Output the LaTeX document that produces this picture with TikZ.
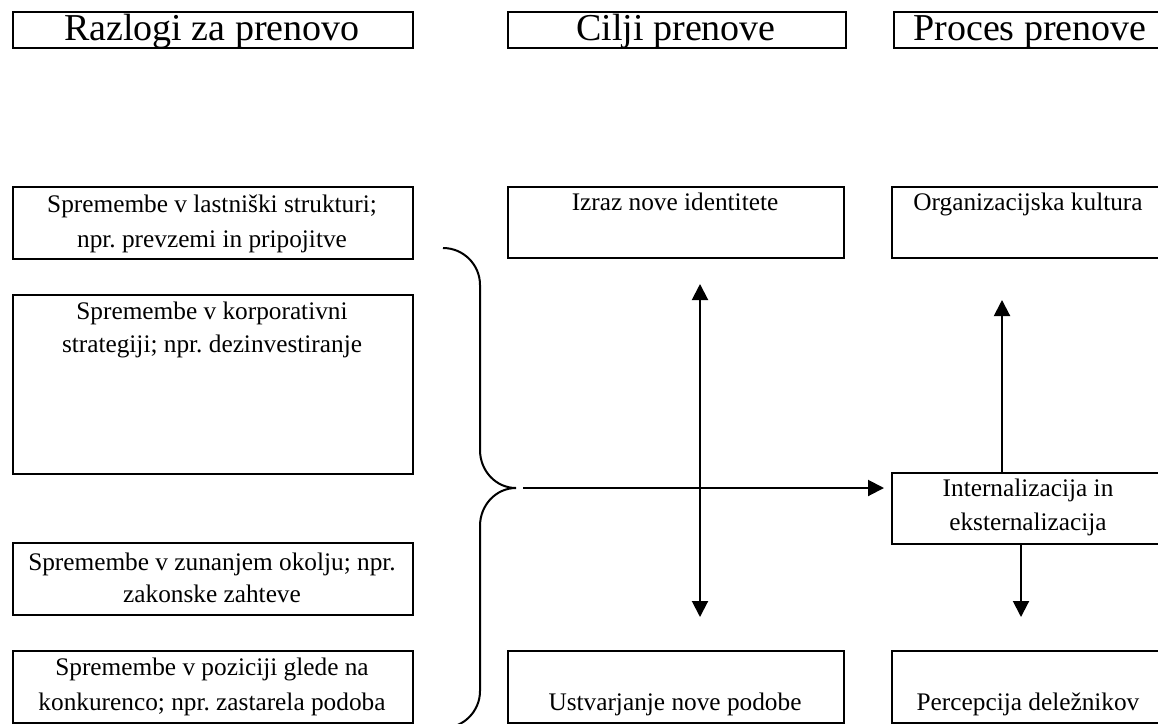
\documentclass[tikz,border=0pt]{standalone}
\usepackage{fontspec}
\setmainfont{Liberation Serif}
\usetikzlibrary{arrows.meta}
\frenchspacing
\tikzset{
  box/.style={draw, line width=2pt, rectangle, inner sep=0pt, anchor=north west},
  txt/.style={inner sep=0pt, anchor=base, font=\fontsize{25.3}{34}\selectfont},
  head/.style={inner sep=0pt, anchor=base, font=\fontsize{38}{42}\selectfont},
  conn/.style={line width=2pt, -{Triangle[width=16pt,length=16pt]}},
  biconn/.style={line width=2pt, {Triangle[width=16pt,length=16pt]}-{Triangle[width=16pt,length=16pt]}},
  bracepath/.style={line width=2pt}
}
\begin{document}
\begin{tikzpicture}[x=1pt, y=-1pt]
\useasboundingbox (0,0) rectangle (1158,723);
\clip (0,0) rectangle (1158,723);

% column headings
\node[box, minimum width=400pt, minimum height=36pt] (h1) at (12,11) {};
\node[box, minimum width=338pt, minimum height=36pt] (h2) at (507,11) {};
\node[box, minimum width=272pt, minimum height=36pt] (h3) at (893,11) {};
\node[head] (h1t) at (212,40) {Razlogi za prenovo};
\node[head] (h2t) at (676,40) {Cilji prenove};
\node[head] (h3t) at (1030,40) {Proces prenove};

% reasons
\node[box, minimum width=400pt, minimum height=72pt] (l1) at (12,186) {};
\node[txt] (l1a) at (212,212) {Spremembe v lastniški strukturi;};
\node[txt] (l1b) at (212,247) {npr. prevzemi in pripojitve};

\node[box, minimum width=400pt, minimum height=179pt] (l2) at (12,294) {};
\node[txt] (l2a) at (212,319) {Spremembe v korporativni};
\node[txt] (l2b) at (212,352) {strategiji; npr. dezinvestiranje};

\node[box, minimum width=400pt, minimum height=72pt] (l3) at (12,542) {};
\node[txt] (l3a) at (212,570) {Spremembe v zunanjem okolju; npr.};
\node[txt] (l3b) at (212,602) {zakonske zahteve};

\node[box, minimum width=400pt, minimum height=72pt] (l4) at (12,650) {};
\node[txt] (l4a) at (212,675) {Spremembe v poziciji glede na};
\node[txt] (l4b) at (212,710) {konkurenco; npr. zastarela podoba};

% goals
\node[box, minimum width=336pt, minimum height=71pt] (izraz) at (507,186) {};
\node[txt] (izrazt) at (675,210) {Izraz nove identitete};
\node[box, minimum width=336pt, minimum height=72pt] (ustv) at (507,650) {};
\node[txt] (ustvt) at (675,710) {Ustvarjanje nove podobe};

% process
\node[box, minimum width=274pt, minimum height=71pt] (org) at (891,186) {};
\node[txt] (orgt) at (1028,210) {Organizacijska kultura};
\node[box, minimum width=274pt, minimum height=71pt] (intern) at (891,472) {};
\node[txt] (interna) at (1028,496) {Internalizacija in};
\node[txt] (internb) at (1028,530) {eksternalizacija};
\node[box, minimum width=274pt, minimum height=72pt] (perc) at (891,650) {};
\node[txt] (perct) at (1028,710) {Percepcija deležnikov};

% curly brace gathering the reasons
\coordinate (tip) at (516,488);
\draw[bracepath] (443,248) .. controls (463.4,248) and (480,264.6) .. (480,285)
  -- (480,450) .. controls (480,471) and (496,488) .. (tip)
  .. controls (496,488) and (480,505) .. (480,526)
  -- (480,691) .. controls (480,711.4) and (463.4,728) .. (443,728);

% connectors
\coordinate (mx) at (700,0);
\coordinate (rx1) at (1002,0);
\coordinate (rx2) at (1021,0);
\draw[conn, shorten <=7pt, shorten >=7pt] (tip) -- (intern.west |- tip);
\draw[biconn, shorten <=25pt, shorten >=33pt] (izraz.south -| mx) -- (ustv.north -| mx);
\draw[conn, shorten >=41pt] (intern.north -| rx1) -- (org.south -| rx1);
\draw[conn, shorten >=33pt] (intern.south -| rx2) -- (perc.north -| rx2);
\end{tikzpicture}
\end{document}
